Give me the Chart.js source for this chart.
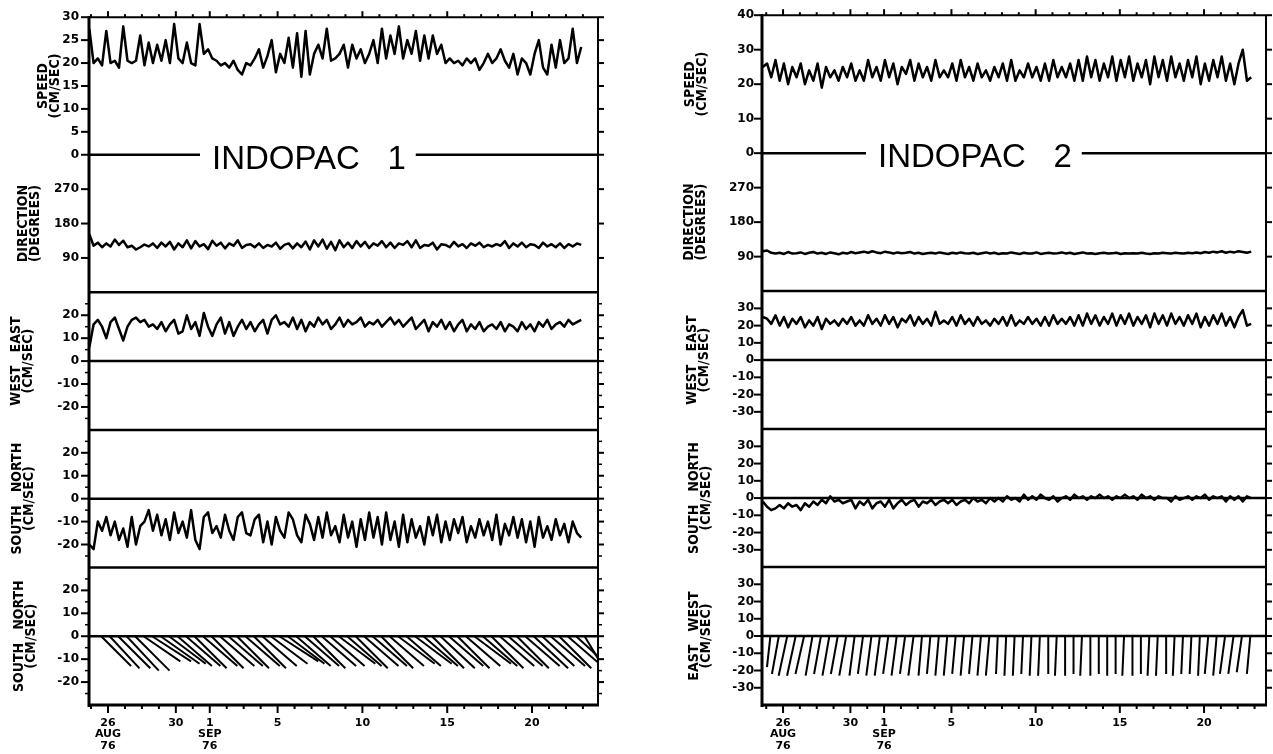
<!DOCTYPE html>
<html>
<head>
<meta charset="utf-8">
<script src="https://cdn.jsdelivr.net/npm/chart.js@4.4.1/dist/chart.umd.min.js"></script>
<style>
  html, body { margin: 0; padding: 0; background: #fff; }
  body { width: 1273px; height: 754px; position: relative; overflow: hidden; }
  canvas { position: absolute; top: 0; }
  #ind1 { left: 0; }
  #ind2 { left: 620px; }
</style>
</head>
<body>
<canvas id="ind1" width="620" height="754"></canvas>
<canvas id="ind2" width="653" height="754"></canvas>
<script>
// time in days from 26 AUG 76, 6-hourly samples
const step = 0.25
const ind1Start = -1.1
const ind2Start = -1.2

const dayTicks = [0, 4, 6, 10, 15, 20, 25]
const dayLabels = [['26', 'AUG', '76'], '30', ['1', 'SEP', '76'], '5', '10', '15', '20']

// INDOPAC 1
const ind1Speed = [
    27.5, 20, 21, 19.5, 27, 20, 20.5, 19, 28, 20.5, 20, 20.5, 26, 19.5, 24.5, 20,
    24, 20.5, 25, 20, 28.5, 21, 20, 24.5, 20, 19.5, 28.5, 22, 23, 21, 20.5, 19.5,
    20, 19, 20.5, 18.5, 17.5, 20, 19.5, 21, 23, 19, 21.5, 25, 18, 22, 20, 25.5,
    19, 26.5, 17, 27, 17.5, 22, 24, 21, 27.5, 20.5, 21, 22, 24, 19, 24, 21,
    23, 20, 22, 25, 20, 27.5, 21, 26, 22, 28, 21, 25, 22, 27, 20.5, 26,
    21, 26, 22, 24, 20, 21, 20, 20.5, 19.5, 21, 20, 21, 18.5, 20, 22, 20,
    21, 23, 20.5, 19, 22, 17.5, 21, 20, 17.5, 22, 25, 19, 17.5, 24, 19, 25,
    20, 21, 27.5, 20, 23.5
]
const ind1Dir = [
    152, 122, 130, 118, 128, 120, 138, 124, 135, 118, 122, 112, 118, 125, 120, 128,
    116, 130, 120, 132, 112, 128, 118, 136, 115, 134, 120, 126, 113, 135, 122, 130,
    115, 128, 122, 136, 116, 124, 126, 118, 128, 116, 124, 120, 130, 114, 124, 128,
    115, 128, 118, 133, 112, 136, 120, 138, 114, 132, 110, 136, 118, 130, 116, 134,
    120, 132, 116, 128, 122, 134, 118, 130, 116, 128, 124, 134, 118, 136, 116, 124,
    122, 130, 112, 126, 124, 118, 132, 120, 126, 116, 128, 122, 130, 118, 124, 120,
    126, 122, 134, 116, 128, 120, 130, 118, 126, 124, 116, 130, 120, 126, 118, 128,
    116, 126, 120, 128, 124
]
const ind1East = [
    6, 16, 18, 15, 10, 17, 19, 14, 9, 15, 18, 19, 17, 18, 15, 16,
    14, 17, 13, 16, 18, 12, 13, 20, 14, 17, 11, 21, 15, 11, 16, 19,
    12, 17, 11, 15, 18, 14, 17, 13, 16, 18, 12, 18, 20, 16, 17, 15,
    19, 14, 18, 13, 17, 15, 19, 16, 18, 14, 16, 19, 15, 18, 16, 17,
    19, 15, 17, 16, 18, 15, 17, 19, 16, 18, 15, 17, 19, 14, 16, 18,
    13, 17, 15, 18, 14, 17, 13, 16, 18, 13, 16, 14, 17, 13, 15, 16,
    14, 17, 13, 16, 15, 13, 17, 14, 16, 13, 17, 15, 18, 14, 16, 17,
    15, 18, 16, 17, 18
]
const ind1North = [
    -20, -22, -10, -14, -8, -16, -10, -18, -13, -21, -8, -20, -12, -10, -5, -14,
    -7, -16, -9, -18, -6, -15, -10, -17, -5, -18, -22, -8, -6, -15, -12, -17,
    -7, -14, -18, -8, -6, -15, -16, -9, -7, -19, -10, -20, -8, -14, -17, -6,
    -9, -16, -19, -7, -11, -18, -8, -17, -6, -16, -12, -19, -7, -17, -10, -21,
    -9, -18, -6, -17, -8, -20, -6, -18, -10, -21, -7, -19, -9, -17, -12, -20,
    -8, -16, -7, -19, -10, -18, -9, -15, -8, -19, -12, -17, -9, -16, -10, -18,
    -7, -20, -11, -16, -8, -17, -9, -19, -10, -21, -8, -17, -12, -18, -9, -16,
    -11, -19, -10, -15, -17
]
// twice-daily current sticks (east, north components)
const ind1StickStart = -0.4
const ind1StickE = [
    13, 13, 14, 14, 15, 16, 17, 17, 16, 15, 15, 14, 15, 14, 15, 15, 14, 15, 14, 15,
    16, 17, 16, 15, 15, 14, 15, 15, 16, 15, 14, 15, 15, 14, 15, 16, 15, 16, 15, 14,
    15, 15, 14, 15, 16, 15, 14, 15, 15, 14, 15, 15, 14, 15, 14, 15, 13, 6
]
const ind1StickN = [
    -13, -14, -14, -15, -15, -11, -11, -12, -12, -13, -13, -14, -13, -14, -13, -13, -14, -13, -14, -13,
    -12, -11, -12, -13, -13, -14, -13, -13, -12, -13, -14, -13, -13, -14, -13, -12, -13, -12, -13, -14,
    -14, -13, -14, -13, -12, -13, -14, -13, -13, -14, -13, -14, -13, -13, -14, -13, -12, -10
]

// INDOPAC 2
const ind2Speed = [
    25, 26, 22, 27, 21, 26, 20, 25, 22, 26, 20, 24, 21, 26, 19, 25,
    22, 24, 21, 25, 22, 26, 21, 24, 21, 27, 22, 25, 21, 27, 22, 26,
    20, 25, 23, 27, 21, 26, 22, 25, 21, 27, 22, 24, 22, 26, 21, 27,
    22, 25, 21, 26, 22, 24, 21, 25, 22, 26, 21, 27, 21, 24, 22, 26,
    22, 25, 21, 26, 21, 27, 22, 25, 22, 26, 21, 27, 21, 28, 22, 27,
    21, 26, 22, 28, 21, 27, 22, 28, 21, 26, 22, 27, 20, 28, 22, 27,
    21, 28, 22, 26, 21, 27, 22, 28, 20, 26, 21, 27, 22, 28, 21, 26,
    20, 26, 30, 21, 22
]
const ind2Dir = [
    104, 106, 100, 98, 100, 97, 102, 98, 99, 101, 97, 100, 102, 98, 100, 97,
    101, 99, 96, 100, 98, 102, 99, 101, 103, 100, 104, 101, 99, 103, 101, 98,
    101, 99, 100, 102, 98, 100, 97, 99, 100, 98, 101, 99, 97, 100, 98, 101,
    99, 98, 100, 97, 99, 101, 98, 100, 97, 99, 98, 101, 99, 97, 100, 98,
    98, 101, 97, 99, 100, 98, 99, 101, 98, 100, 97, 99, 101, 98, 99, 97,
    99, 100, 98, 99, 100, 97, 99, 98, 99, 98, 100, 98, 97, 99, 98, 100,
    99, 98, 100, 99, 98, 100, 99, 101, 99, 102, 100, 103, 101, 104, 100, 103,
    101, 104, 102, 100, 103
]
const ind2East = [
    25, 24, 21, 26, 20, 25, 19, 24, 21, 25, 19, 23, 20, 25, 18, 24,
    21, 23, 20, 24, 21, 25, 20, 23, 20, 26, 21, 24, 20, 26, 21, 25,
    19, 24, 22, 26, 20, 25, 21, 24, 20, 28, 21, 23, 21, 25, 20, 26,
    21, 24, 20, 25, 21, 23, 20, 24, 21, 25, 20, 26, 20, 23, 21, 25,
    21, 24, 20, 25, 20, 26, 21, 24, 21, 25, 20, 26, 20, 27, 21, 26,
    20, 25, 21, 27, 20, 26, 21, 27, 20, 25, 21, 26, 19, 27, 21, 26,
    20, 27, 21, 25, 20, 26, 21, 27, 19, 25, 20, 26, 21, 27, 20, 25,
    19, 25, 29, 20, 21
]
const ind2North = [
    -2, -5, -7, -6, -4, -6, -3, -5, -4, -7, -3, -5, -2, -4, -1, -3,
    1, -2, -1, -3, -2, -1, -6, -2, -4, -1, -6, -3, -2, -5, -1, -6,
    -3, -1, -4, -2, -1, -5, -2, -3, -1, -4, -2, -1, -3, -1, -4, -2,
    -1, -3, 0, -2, -1, -3, 0, -2, 0, -2, 1, -1, 0, -2, 2, -1,
    1, -1, 2, 0, -1, 1, -2, 0, 1, -1, 2, 0, 1, -1, 1, 0,
    2, 0, 1, -1, 1, 0, 2, 0, 1, -1, 2, 0, 1, -1, 1, 0,
    0, -2, 1, -1, 0, 1, -1, 1, 0, 2, -1, 1, 0, 1, -2, 1,
    -1, 1, -2, 1, 0
]
// sticks drawn with west up: across = north component, down = east component
const ind2StickStart = -0.75
const ind2StickAcross = [
    -2, -4, -5, -5, -5, -4, -4, -4, -4, -4, -3, -3, -3, -3, -3, -3, -3, -3, -2, -2,
    -2, -2, -2, -2, -2, -2, -2, -1, -1, -1, -1, -1, -1, 0, -1, 0, 0, -1, 0, 0,
    0, 0, -1, 0, 0, -1, -1, 0, -1, -1, -1, -1, -2, -2, -3, -3, -3, -2
]
const ind2StickDown = [
    -18, -22, -23, -23, -22, -23, -22, -23, -22, -23, -23, -22, -23, -23, -22, -23, -22, -23, -23, -22,
    -23, -23, -22, -23, -22, -23, -23, -22, -23, -23, -22, -23, -23, -22, -23, -23, -22, -23, -23, -22,
    -23, -22, -23, -23, -22, -23, -23, -22, -23, -22, -22, -23, -22, -23, -22, -22, -21, -22
]

const TICK_FONT = "'DejaVu Sans', sans-serif"
const LABEL_FONT = "'DejaVu Sans Condensed', 'Liberation Sans Narrow', 'DejaVu Sans', sans-serif"

const seg = (ctx, x0, y0, x1, y1, w) => {
    ctx.lineWidth = w
    ctx.beginPath()
    ctx.moveTo(x0, y0)
    ctx.lineTo(x1, y1)
    ctx.stroke()
}

// frame, panel separators, tick marks, stick plot and station name
const framePlugin = {
    id: 'frame',
    afterDatasetsDraw(chart, args, opts) {
        const {ctx, chartArea: {left, right, top, bottom}, scales} = chart
        const x = scales.x
        ctx.save()
        ctx.strokeStyle = '#000'
        ctx.fillStyle = '#000'
        ctx.lineCap = 'butt'

        // sticks stay inside the plot frame
        ctx.save()
        ctx.beginPath()
        ctx.rect(left, top, right - left, bottom - top)
        ctx.clip()
        const ys = scales.stk
        const zero = ys.getPixelForValue(0)
        opts.stickAcross.forEach((a, i) => {
            const px = x.getPixelForValue(opts.stickStart + i * 0.5)
            const dx = zero - ys.getPixelForValue(a)
            seg(ctx, px, zero, px + dx, ys.getPixelForValue(opts.stickDown[i]), 2)
        })
        ctx.restore()

        opts.panels.forEach((p, k) => {
            const s = scales[p.id]
            p.ticks.forEach(v => {
                const py = s.getPixelForValue(v)
                seg(ctx, left - 8, py, left, py, 2)
                seg(ctx, right, py, right + 6, py, 2)
            })
            p.minor.forEach(v => {
                const py = s.getPixelForValue(v)
                seg(ctx, left - 4, py, left, py, 1.5)
                seg(ctx, right, py, right + 4, py, 1.5)
            })
            if (p.zero) seg(ctx, left, s.getPixelForValue(0), right, s.getPixelForValue(0), 2.5)
            if (k > 0 && k < opts.panels.length - 1) seg(ctx, left, s.bottom, right, s.bottom, 2.5)
        })

        for (let d = Math.ceil(x.min); d <= x.max; d++) {
            const px = x.getPixelForValue(d)
            const major = dayTicks.includes(d)
            seg(ctx, px, bottom, px, bottom + (major ? 8 : 4), 2)
            seg(ctx, px, top - (major ? 6 : 3), px, top, 2)
        }

        seg(ctx, left, top, right, top, 2)
        seg(ctx, right, top, right, bottom, 2)
        seg(ctx, left - 1, bottom, right + 1, bottom, 3)
        seg(ctx, left, top - 1, left, bottom + 2, 3)

        // speed zero line carries the station name
        const ty = scales[opts.panels[0].id].bottom
        ctx.font = '33px "Liberation Sans", Arial, sans-serif'
        ctx.textAlign = 'left'
        ctx.textBaseline = 'alphabetic'
        const tx = left + opts.titleX
        const tw = ctx.measureText(opts.title).width
        seg(ctx, left, ty, tx - 12, ty, 2.5)
        seg(ctx, tx + tw + 10, ty, right, ty, 2.5)
        ctx.fillText(opts.title, tx, ty + 14)
        ctx.restore()
    }
}

const yAxis = (p, weight, axisW, labelPad) => ({
    type: 'linear',
    position: 'left',
    stack: 'col',
    stackWeight: 1,
    weight,
    min: p.min,
    max: p.max,
    grid: {display: false, drawTicks: false},
    border: {display: false},
    afterBuildTicks: s => { s.ticks = p.ticks.map(v => ({value: v})) },
    afterFit: s => { s.width = axisW },
    ticks: {
        autoSkip: false,
        padding: labelPad,
        color: '#000',
        font: {family: TICK_FONT, size: 12, weight: 'bold'}
    },
    title: {
        display: true,
        text: p.title,
        color: '#000',
        font: {family: LABEL_FONT, size: 14, weight: 'bold', lineHeight: 0.82},
        padding: {top: p.pad, bottom: 0}
    }
})

const line = (values, start, axis) => ({
    data: values.map((v, i) => ({x: start + i * step, y: v})),
    yAxisID: axis,
    borderColor: '#000',
    borderWidth: 2.5,
    borderJoinStyle: 'round',
    pointRadius: 0,
    tension: 0,
    fill: false
})

const column = c => {
    const scales = {
        x: {
            type: 'linear',
            position: 'bottom',
            min: c.xMin,
            max: c.xMax,
            grid: {display: false, drawTicks: false},
            border: {display: false},
            afterBuildTicks: s => { s.ticks = dayTicks.map(v => ({value: v})) },
            afterFit: s => { s.height = 49 },
            ticks: {
                autoSkip: false,
                maxRotation: 0,
                padding: 12,
                color: '#000',
                font: {family: TICK_FONT, size: 11, weight: 'bold', lineHeight: 1.05},
                callback: v => dayLabels[dayTicks.indexOf(v)]
            }
        }
    }
    c.panels.forEach((p, k) => {
        scales[p.id] = yAxis(p, c.panels.length - k, c.axisW, c.labelPad)
    })
    return {
        type: 'line',
        data: {
            datasets: [
                line(c.speed, c.start, 'spd'),
                line(c.dir, c.start, 'dir'),
                line(c.east, c.start, 'we'),
                line(c.north, c.start, 'sn')
            ]
        },
        options: {
            responsive: false,
            animation: false,
            layout: {padding: {top: 14, right: c.padRight, bottom: 0, left: 0}},
            scales,
            plugins: {
                legend: {display: false},
                tooltip: {enabled: false},
                frame: {
                    panels: c.panels,
                    title: c.title,
                    titleX: c.titleX,
                    stickStart: c.stickStart,
                    stickAcross: c.stickAcross,
                    stickDown: c.stickDown
                }
            }
        },
        plugins: [framePlugin]
    }
}

generateChart = (id, config) => new Chart(document.getElementById(id), config)

const fives = [-25, -15, -5, 5, 15, 25]

generateChart('ind1', column({
    title: 'INDOPAC   1',
    titleX: 123,
    xMin: -1.12,
    xMax: 28.89,
    axisW: 89,
    labelPad: 10,
    padRight: 22,
    start: ind1Start,
    speed: ind1Speed,
    dir: ind1Dir,
    east: ind1East,
    north: ind1North,
    stickStart: ind1StickStart,
    stickAcross: ind1StickE,
    stickDown: ind1StickN,
    panels: [
        {id: 'spd', min: 0, max: 30, ticks: [0, 5, 10, 15, 20, 25, 30], minor: [], title: ['SPEED', '(CM/SEC)'], pad: 38},
        {id: 'dir', min: 0, max: 360, ticks: [90, 180, 270], minor: [], title: ['DIRECTION', '(DEGREES)'], pad: 18},
        {id: 'we', min: -30, max: 30, ticks: [-20, -10, 0, 10, 20], minor: fives, zero: true, title: ['WEST   EAST', '(CM/SEC)'], pad: 11},
        {id: 'sn', min: -30, max: 30, ticks: [-20, -10, 0, 10, 20], minor: fives, zero: true, title: ['SOUTH   NORTH', '(CM/SEC)'], pad: 12},
        {id: 'stk', min: -30, max: 30, ticks: [-20, -10, 0, 10, 20], minor: fives, zero: true, title: ['SOUTH   NORTH', '(CM/SEC)'], pad: 14}
    ]
}))

generateChart('ind2', column({
    title: 'INDOPAC   2',
    titleX: 116,
    xMin: -1.25,
    xMax: 28.68,
    axisW: 142,
    labelPad: 8,
    padRight: 7,
    start: ind2Start,
    speed: ind2Speed,
    dir: ind2Dir,
    east: ind2East,
    north: ind2North,
    stickStart: ind2StickStart,
    stickAcross: ind2StickAcross,
    stickDown: ind2StickDown,
    panels: [
        {id: 'spd', min: 0, max: 40, ticks: [0, 10, 20, 30, 40], minor: [], title: ['SPEED', '(CM/SEC)'], pad: 65},
        {id: 'dir', min: 0, max: 360, ticks: [90, 180, 270], minor: [], title: ['DIRECTION', '(DEGREES)'], pad: 64},
        {id: 'we', min: -40, max: 40, ticks: [-30, -20, -10, 0, 10, 20, 30], minor: [], zero: true, title: ['WEST   EAST', '(CM/SEC)'], pad: 67},
        {id: 'sn', min: -40, max: 40, ticks: [-30, -20, -10, 0, 10, 20, 30], minor: [], zero: true, title: ['SOUTH   NORTH', '(CM/SEC)'], pad: 69},
        {id: 'stk', min: -40, max: 40, ticks: [-30, -20, -10, 0, 10, 20, 30], minor: [], zero: true, title: ['EAST   WEST', '(CM/SEC)'], pad: 69}
    ]
}))
</script>
</body>
</html>
